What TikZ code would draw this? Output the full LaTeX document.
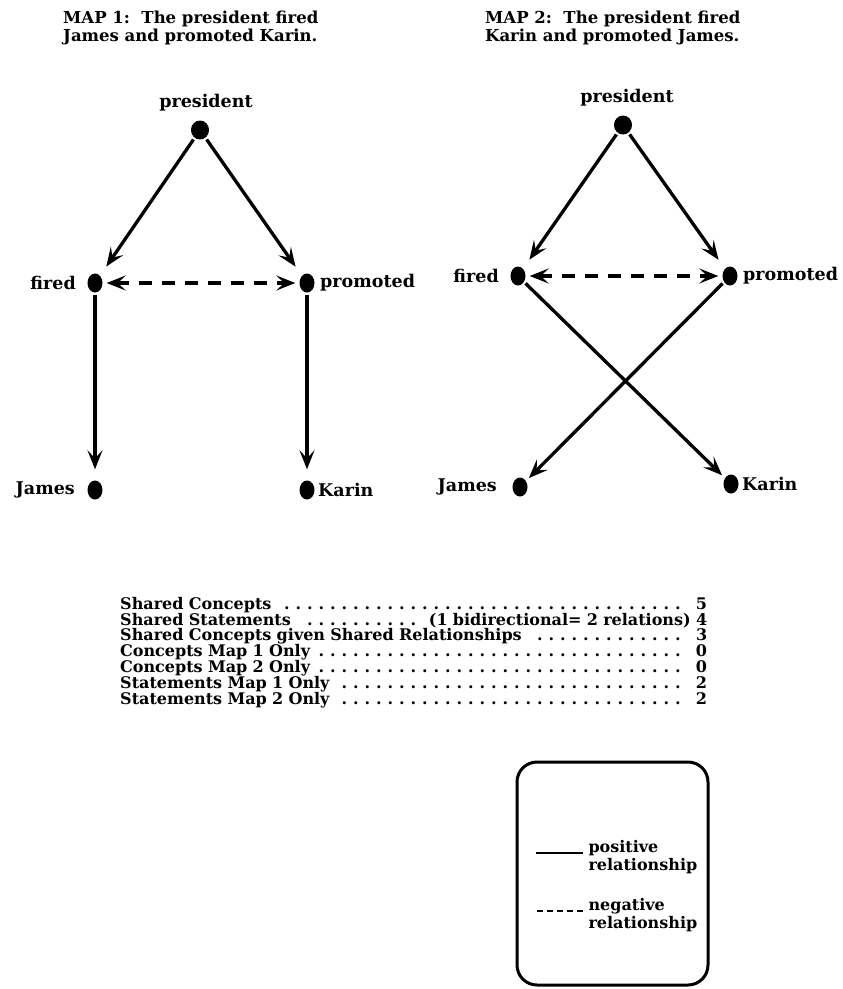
\documentclass[tikz,border=0pt]{standalone}
\usepackage{fontspec}
\setmainfont{DejaVu Serif}
\usetikzlibrary{positioning,arrows.meta,shapes.geometric}
\tikzset{
	>={Stealth[length=19pt,width=15pt,inset=8pt]}
}
\newcommand{\dotlead}{\leaders\hbox to 11.5pt{\hss.\hss}\hfill}

\begin{document}
\begin{tikzpicture}[
x=1pt, y=-1pt,
every node/.style = {
	font = \bfseries\fontsize{17.5}{19}\selectfont
},
title/.style = {
	anchor = north west,
	align = left,
	inner sep = 0pt,
	font = \bfseries\fontsize{16.5}{18}\selectfont
},
dot/.style = {
	ellipse,
	fill,
	inner sep = 0pt,
	minimum width = 15pt,
	minimum height = 19pt
},
link/.style = {
	line width = 3.3pt,
	->,
	shorten > = 11pt,
	shorten < = 2pt
},
neglink/.style = {
	line width = 3.3pt,
	<->,
	dash pattern = on 13pt off 10pt,
	shorten > = 4pt,
	shorten < = 4pt
}
]
\useasboundingbox (0,0) rectangle (843,989);

% map 1
\node (title1) [title] at (63,11) {MAP 1:~~The president fired\\James and promoted Karin.};

\node (pres1) [dot, minimum width=18pt] at (200,130) {};
\node (fired1) [dot] at (95,283) {};
\node (prom1) [dot] at (307,283) {};
\node (james1) [dot] at (95,490) {};
\node (karin1) [dot] at (307,490) {};

\node [above = 6pt of pres1, xshift=6pt] {president};
\node [left = 8pt of fired1] {fired};
\node [right = 2pt of prom1] {promoted};
\node [left = 9pt of james1] {James};
\node [right = 0pt of karin1] {Karin};

\draw[link] (pres1) -- (fired1);
\draw[link] (pres1) -- (prom1);
\draw[neglink] (fired1) -- (prom1);
\draw[link] (fired1) -- (james1);
\draw[link] (prom1) -- (karin1);

% map 2
\node (title2) [title] at (485,11) {MAP 2:~~The president fired\\Karin and promoted James.};

\node (pres2) [dot, minimum width=18pt] at (623,125) {};
\node (fired2) [dot] at (518,276) {};
\node (prom2) [dot] at (730,276) {};
\node (james2) [dot] at (520,487) {};
\node (karin2) [dot] at (731,484) {};

\node [above = 6pt of pres2, xshift=4pt] {president};
\node [left = 8pt of fired2] {fired};
\node [right = 2pt of prom2] {promoted};
\node [left = 12pt of james2] {James};
\node [right = 0pt of karin2] {Karin};

\draw[link] (pres2) -- (fired2);
\draw[link] (pres2) -- (prom2);
\draw[neglink] (fired2) -- (prom2);
\draw[link, shorten > = 4pt] (fired2) -- (karin2);
\draw[link, shorten > = 4pt] (prom2) -- (james2);

% counts
\node (counts) [anchor=north west, text width=587pt, inner sep=0pt,
	font=\bfseries\fontsize{16}{15.8}\selectfont] at (120,597) {%
Shared Concepts \dotlead\ 5\\
Shared Statements \dotlead\ (1 bidirectional= 2 relations) 4\\
Shared Concepts given Shared Relationships \dotlead\ 3\\
Concepts Map 1 Only \dotlead\ 0\\
Concepts Map 2 Only \dotlead\ 0\\
Statements Map 1 Only \dotlead\ 2\\
Statements Map 2 Only \dotlead\ 2};

% legend
\draw[line width=3pt, rounded corners=20pt] (517,762) rectangle (708,985);
\coordinate (posA) at (536,853);
\coordinate (posB) at (583,853);
\coordinate (negA) at (537,911);
\coordinate (negB) at (583,911);
\draw[line width=2.4pt] (posA) -- (posB);
\draw[line width=2.4pt, dash pattern=on 6pt off 4pt] (negA) -- (negB);
\node (poslbl) [anchor=west, align=left, font=\bfseries\fontsize{16}{18}\selectfont] at (585,857) {positive\\relationship};
\node (neglbl) [anchor=west, align=left, font=\bfseries\fontsize{16}{18}\selectfont] at (585,915) {negative\\relationship};

\end{tikzpicture}
\end{document}
